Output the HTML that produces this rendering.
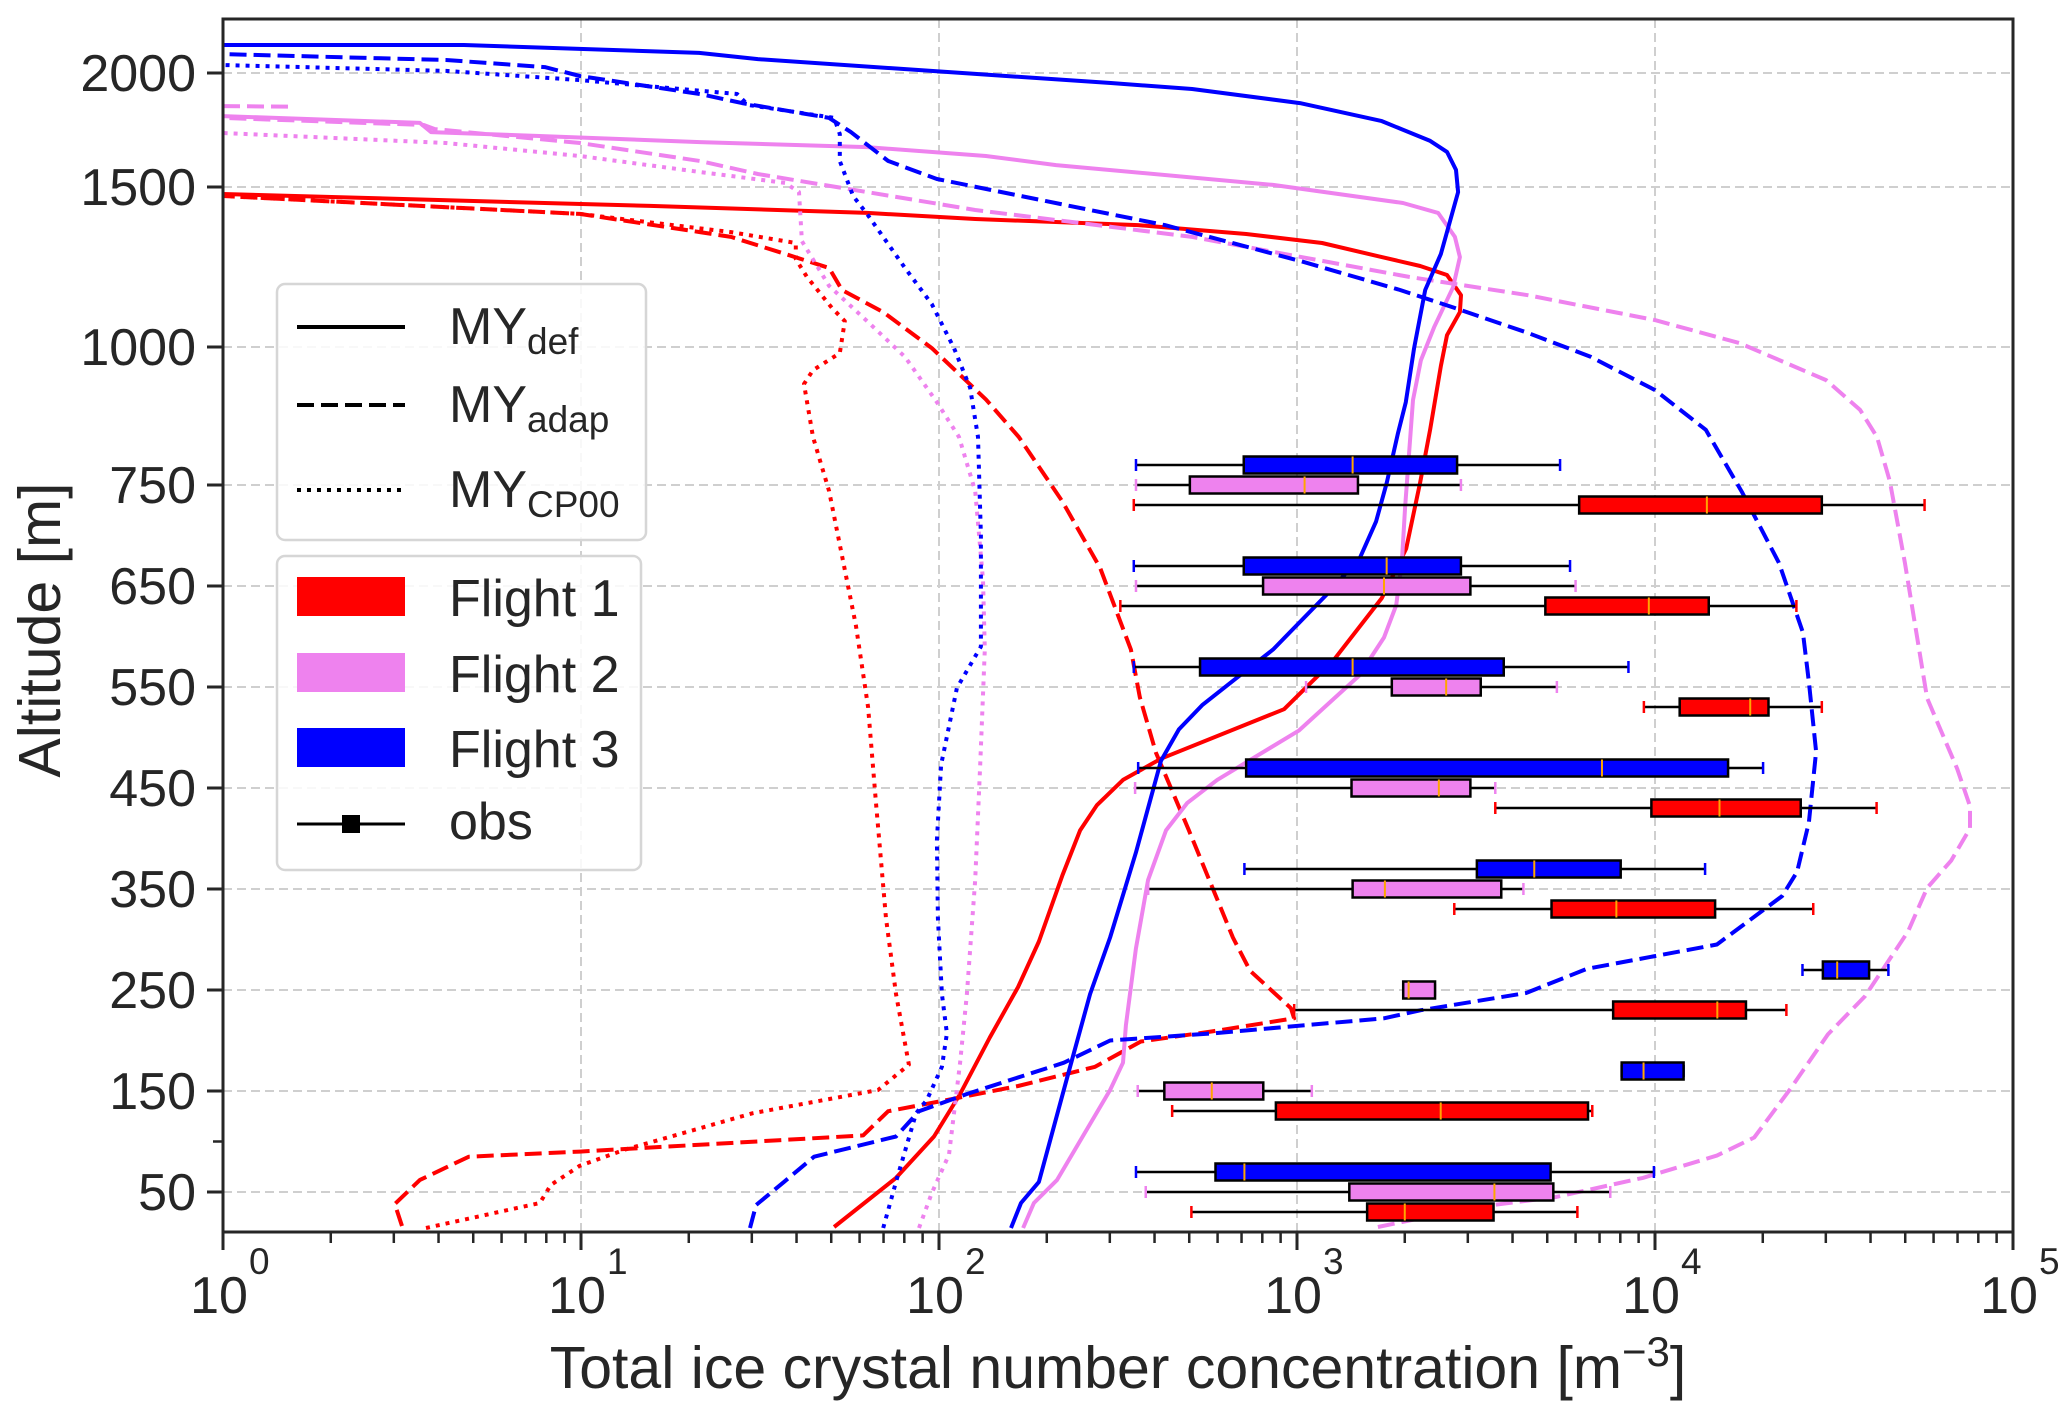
<!DOCTYPE html>
<html><head><meta charset="utf-8"><style>
html,body{margin:0;padding:0;background:#fff;}
svg{display:block;font-family:"Liberation Sans",Arial,sans-serif;}
</style></head><body>
<svg id="chart" xmlns="http://www.w3.org/2000/svg" width="2067" height="1417" viewBox="0 0 2067 1417">
<rect x="0" y="0" width="2067" height="1417" fill="#fff"/>
<g id="grid"></g>
<g id="lines"></g>
<g id="boxes"></g>
<g id="axes"></g>
<g id="legend"></g>
</svg>
<script>
// ---------- data ----------
const xTickExponents = [0, 1, 2, 3, 4, 5];
const yTickLabels = [50, 150, 250, 350, 450, 550, 650, 750, 1000, 1500, 2000];
const yMinorTicks = [100];
const obsGroups = [750, 650, 550, 450, 350, 250, 150, 50];
// [whisker-low, q1, median, q3, whisker-high] per group
const flight1Boxes = [[350,6140,13960,29240,56620],[321,4940,9610,14130,24830],[9310,11720,18450,20750,29240],[3580,9770,15140,25530,41590],[2750,5140,7800,14720,27670],[982,7640,14930,17950,23280],[448,873,2520,6500,6680],[507,1570,2000,3540,6070]];
const flight2Boxes = [[355,502,1050,1480,2870],[355,804,1750,3050,6000],[1060,1840,2610,3260,5320],[353,1420,2490,3050,3580],[384,1430,1760,3720,4290],[1980,1980,2050,2430,2430],[359,426,578,805,1100],[378,1400,3560,5200,7500]];
const flight3Boxes = [[355,710,1430,2800,5430],[350,710,1780,2870,5790],[350,536,1430,3780,8430],[360,721,7110,16000,20040],[713,3180,4600,8020,13800],[25820,29440,32280,39630,44870],[8070,8070,9290,12020,12020],[355,592,713,5110,9930]];
// profiles: [log10 concentration, altitude m]
const f1Def = [[1.707,15],[1.880,64],[1.986,105],[2.059,147],[2.142,203],[2.221,253],[2.279,298],[2.344,363],[2.394,408],[2.441,433],[2.514,458],[2.620,479],[2.964,528],[3.101,576],[3.237,638],[3.305,687],[3.344,755],[3.372,851],[3.402,966],[3.419,1037],[3.455,1109],[3.458,1162],[3.419,1225],[3.344,1253],[3.237,1281],[3.070,1325],[2.858,1353],[2.556,1381],[2.101,1400],[1.799,1419],[1.193,1441],[0,1478]];
const f1Adap = [[0.500,16],[0.480,38],[0.550,62],[0.687,85],[0.997,90],[1.788,106],[1.858,130],[2.050,143],[2.221,155],[2.436,174],[2.564,199],[2.763,209],[2.992,222],[2.983,232],[2.869,269],[2.821,302],[2.698,408],[2.606,485],[2.561,540],[2.536,587],[2.450,668],[2.344,734],[2.223,837],[2.131,905],[1.980,998],[1.844,1109],[1.729,1178],[1.693,1247],[1.570,1291],[1.419,1344],[1.332,1359],[0.997,1416],[0,1472]];
const f1Cp00 = [[0.567,14],[0.885,39],[0.916,57],[0.997,76],[1.123,92],[1.480,128],[1.830,151],[1.916,176],[1.880,246],[1.852,321],[1.824,435],[1.802,530],[1.768,611],[1.693,744],[1.648,837],[1.623,933],[1.648,958],[1.723,989],[1.737,1081],[1.701,1122],[1.631,1219],[1.600,1275],[1.600,1325],[1.419,1359],[0.997,1416],[0,1472]];
const f2Def = [[2.235,14],[2.265,39],[2.330,62],[2.478,151],[2.514,178],[2.522,215],[2.550,291],[2.584,359],[2.634,408],[2.693,435],[2.777,458],[3.006,507],[3.173,561],[3.243,599],[3.277,631],[3.293,674],[3.302,728],[3.324,904],[3.346,976],[3.383,1062],[3.436,1187],[3.455,1281],[3.441,1344],[3.394,1419],[3.296,1450],[2.933,1509],[2.327,1596],[2.131,1636],[1.799,1675],[1.332,1697],[0.874,1724],[0.581,1741],[0.550,1781],[0,1811]];
const f2Adap = [[3.226,15],[3.483,34],[3.723,45],[3.966,64],[4.173,86],[4.277,104],[4.380,153],[4.483,206],[4.587,244],[4.707,308],[4.760,351],[4.827,378],[4.880,410],[4.880,432],[4.844,469],[4.760,539],[4.698,673],[4.656,757],[4.620,837],[4.573,886],[4.478,940],[4.237,1012],[4.000,1084],[3.645,1162],[3.313,1219],[2.707,1344],[2.101,1428],[1.494,1557],[1.332,1614],[0.997,1693],[0.592,1754],[0.561,1772],[0,1803]];
const f2AdapTop = [[0,1855],[0.19,1852]];
const f2Cp00 = [[1.944,14],[1.980,49],[2.028,87],[2.059,178],[2.078,246],[2.101,359],[2.115,473],[2.128,587],[2.123,656],[2.101,744],[2.056,837],[1.994,900],[1.905,982],[1.799,1081],[1.693,1191],[1.617,1331],[1.609,1484],[1.570,1518],[1.332,1566],[0.997,1636],[0.623,1693],[0,1737]];
const f3Def = [[2.201,14],[2.229,39],[2.279,60],[2.363,170],[2.422,246],[2.478,302],[2.550,386],[2.620,477],[2.670,508],[2.735,532],[2.835,560],[2.933,587],[3.084,642],[3.176,678],[3.221,714],[3.251,755],[3.282,844],[3.304,900],[3.327,998],[3.358,1178],[3.402,1291],[3.450,1484],[3.444,1575],[3.419,1654],[3.372,1702],[3.237,1789],[3.008,1868],[2.707,1930],[2.480,1956],[2.101,1996],[1.494,2061],[1.330,2088],[0.673,2123],[0,2123]];
const f3Adap = [[1.472,14],[1.489,37],[1.567,60],[1.651,85],[1.880,105],[1.944,130],[2.078,147],[2.349,178],[2.478,200],[2.763,207],[3.243,222],[3.346,230],[3.640,247],[3.810,271],[4.173,295],[4.355,343],[4.397,367],[4.430,416],[4.450,486],[4.430,555],[4.413,604],[4.346,673],[4.243,743],[4.142,850],[4.000,922],[3.821,982],[3.645,1044],[3.441,1122],[3.288,1178],[3.008,1269],[2.631,1381],[2.299,1456],[1.994,1535],[1.858,1614],[1.754,1741],[1.693,1803],[1.450,1868],[1.332,1908],[0.997,1987],[0.899,2026],[0.623,2057],[0,2083]];
const f3Cp00 = [[1.844,14],[1.880,60],[1.936,128],[1.966,141],[2.008,174],[2.022,207],[2.008,246],[1.997,321],[1.994,398],[2.006,473],[2.050,549],[2.117,590],[2.117,700],[2.109,837],[2.087,926],[2.042,998],[1.980,1134],[1.905,1247],[1.799,1416],[1.760,1472],[1.723,1614],[1.723,1732],[1.707,1803],[1.466,1860],[1.436,1908],[0.997,1969],[0.623,2009],[0,2035]];

// ---------- axes ----------
const PL = 223, PR = 2013, PT = 19, PB = 1232;
const INK = '#262626';
function xLog(e){ return PL + (PR - PL) * e / 5; }
function xVal(v){ return xLog(Math.log10(v)); }
function yAlt(a){
  const k = [[10,1232],[50,1192],[750,485],[1000,347],[1500,187],[2000,73],[2237,19]];
  for (let i = 0; i < k.length - 1; i++) {
    if (a <= k[i+1][0] || i === k.length - 2) {
      const t = (a - k[i][0]) / (k[i+1][0] - k[i][0]);
      return k[i][1] + t * (k[i+1][1] - k[i][1]);
    }
  }
}
const NS = 'http://www.w3.org/2000/svg';
function mk(tag, attrs, parent){
  const e = document.createElementNS(NS, tag);
  for (const k in attrs) e.setAttribute(k, attrs[k]);
  parent.appendChild(e); return e;
}
const gGrid = document.getElementById('grid');
const gLines = document.getElementById('lines');
const gBoxes = document.getElementById('boxes');
const gAxes = document.getElementById('axes');

// grid
xTickExponents.forEach(e => {
  if (e === 0 || e === 5) return;
  const l = mk('line', {x1:xLog(e), x2:xLog(e), y1:PT, y2:PB, stroke:'#cfcfcf', 'stroke-width':2, 'stroke-dasharray':'9,5'}, gGrid);
  
  
});
yTickLabels.forEach(a => {
  const l = mk('line', {x1:PL, x2:PR, y1:yAlt(a), y2:yAlt(a), stroke:'#cfcfcf', 'stroke-width':2, 'stroke-dasharray':'9,5'}, gGrid);
  
  
});

// profiles
const RED = '#ff0000', VIO = '#ee82ee', BLUE = '#0000ff';
const DASH = '17,7', DOT = '4,6';
function drawProfile(pts, color, dash, name){
  const d = pts.map((p, i) => (i ? 'L' : 'M') + xLog(p[0]).toFixed(1) + ',' + yAlt(p[1]).toFixed(1)).join(' ');
  const p = mk('path', {d:d, fill:'none', stroke:color, 'stroke-width':4, 'stroke-linejoin':'round'}, gLines);
  if (dash) p.setAttribute('stroke-dasharray', dash);
  
  
}
drawProfile(f1Cp00, RED, DOT, 'flight1-cp00-profile');
drawProfile(f1Adap, RED, DASH, 'flight1-adap-profile');
drawProfile(f1Def, RED, null, 'flight1-def-profile');
drawProfile(f2Cp00, VIO, DOT, 'flight2-cp00-profile');
drawProfile(f2Adap, VIO, DASH, 'flight2-adap-profile');
drawProfile(f2AdapTop, VIO, DASH, 'flight2-adap-profile-top');
drawProfile(f2Def, VIO, null, 'flight2-def-profile');
drawProfile(f3Cp00, BLUE, DOT, 'flight3-cp00-profile');
drawProfile(f3Adap, BLUE, DASH, 'flight3-adap-profile');
drawProfile(f3Def, BLUE, null, 'flight3-def-profile');

// boxplots
function drawBoxes(boxes, color, offset, name){
  boxes.forEach((b, i) => {
    const yc = yAlt(obsGroups[i]) + offset;
    const g = mk('g', {}, gBoxes);
    
    
    mk('line', {x1:xVal(b[0]), x2:xVal(b[4]), y1:yc, y2:yc, stroke:'#000', 'stroke-width':2.5}, g);
    mk('line', {x1:xVal(b[0]), x2:xVal(b[0]), y1:yc-6, y2:yc+6, stroke:color, 'stroke-width':2.5}, g);
    mk('line', {x1:xVal(b[4]), x2:xVal(b[4]), y1:yc-6, y2:yc+6, stroke:color, 'stroke-width':2.5}, g);
    mk('rect', {x:xVal(b[1]), y:yc-8.5, width:Math.max(1, xVal(b[3]) - xVal(b[1])), height:17, fill:color, stroke:'#000', 'stroke-width':2.5}, g);
    mk('line', {x1:xVal(b[2]), x2:xVal(b[2]), y1:yc-8.5, y2:yc+8.5, stroke:'#ffa500', 'stroke-width':2}, g);
  });
}
drawBoxes(flight3Boxes, BLUE, -20, 'flight3-box');
drawBoxes(flight2Boxes, VIO, 0, 'flight2-box');
drawBoxes(flight1Boxes, RED, 20, 'flight1-box');

// axes frame
const frame = mk('rect', {x:PL, y:PT, width:PR-PL, height:PB-PT, fill:'none', stroke:INK, 'stroke-width':3}, gAxes);



// x ticks
xTickExponents.forEach(e => {
  const x = xLog(e);
  mk('line', {x1:x, x2:x, y1:PB, y2:PB+18, stroke:INK, 'stroke-width':3}, gAxes);
  const t = mk('text', {x:x-4, y:1313, 'font-size':52, fill:INK, 'text-anchor':'middle'}, gAxes);
  t.textContent = '10';
  
  
  const s = mk('text', {x:x+26, y:1274, 'font-size':37, fill:INK, 'text-anchor':'start'}, gAxes);
  s.textContent = String(e);
  
  
  if (e < 5) for (let m = 2; m <= 9; m++) {
    const xm = xLog(e + Math.log10(m));
    mk('line', {x1:xm, x2:xm, y1:PB, y2:PB+11, stroke:INK, 'stroke-width':2.5}, gAxes);
  }
});
// y ticks
yTickLabels.forEach(a => {
  const y = yAlt(a);
  mk('line', {x1:PL-16, x2:PL, y1:y, y2:y, stroke:INK, 'stroke-width':3}, gAxes);
  const t = mk('text', {x:196, y:y+18, 'font-size':52, fill:INK, 'text-anchor':'end'}, gAxes);
  t.textContent = String(a);
  
  
});
yMinorTicks.forEach(a => {
  const y = yAlt(a);
  mk('line', {x1:PL-10, x2:PL, y1:y, y2:y, stroke:INK, 'stroke-width':2.5}, gAxes);
});
</script>
<script>
(function(){
const NS = 'http://www.w3.org/2000/svg';
const g = document.getElementById('axes');
const xt = document.createElementNS(NS, 'text');
xt.setAttribute('x', 1118); xt.setAttribute('y', 1388);
xt.setAttribute('font-size', 59); xt.setAttribute('fill', '#262626'); xt.setAttribute('text-anchor', 'middle');


xt.innerHTML = 'Total ice crystal number concentration [m<tspan dy="-22" font-size="42">−3</tspan><tspan dy="22">]</tspan>';
g.appendChild(xt);
const yt = document.createElementNS(NS, 'text');
yt.setAttribute('transform', 'translate(60,630) rotate(-90)');
yt.setAttribute('font-size', 59); yt.setAttribute('fill', '#262626'); yt.setAttribute('text-anchor', 'middle');


yt.textContent = 'Altitude [m]';
g.appendChild(yt);
})();
</script>
<script>
(function(){
const NS = 'http://www.w3.org/2000/svg';
const L = document.getElementById('legend');
function mk(tag, attrs, parent){
  const e = document.createElementNS(NS, tag);
  for (const k in attrs) e.setAttribute(k, attrs[k]);
  parent.appendChild(e); return e;
}
const b1 = mk('rect', {x:277, y:284, width:369, height:256, rx:8, fill:'#fff', 'fill-opacity':0.85, stroke:'#d6d6d6', 'stroke-width':2.5}, L);


const entries = [['def', null, 327, 344], ['adap', '17,7', 405, 422], ['CP00', '4,6', 490, 507]];
entries.forEach(en => {
  const l = mk('line', {x1:297, x2:405, y1:en[2], y2:en[2], stroke:'#000', 'stroke-width':4}, L);
  if (en[1]) l.setAttribute('stroke-dasharray', en[1]);
  
  
  const t = mk('text', {x:449, y:en[3], 'font-size':52, fill:'#262626'}, L);
  t.innerHTML = 'MY<tspan dy="10" font-size="37">' + en[0] + '</tspan>';
  
  
});
const b2 = mk('rect', {x:277, y:556, width:364, height:314, rx:8, fill:'#fff', 'fill-opacity':0.85, stroke:'#d6d6d6', 'stroke-width':2.5}, L);


const fl = [['Flight 1', '#ff0000', 577, 616], ['Flight 2', '#ee82ee', 653, 692], ['Flight 3', '#0000ff', 728, 767]];
fl.forEach((f, i) => {
  const r = mk('rect', {x:297, y:f[2], width:108, height:39, fill:f[1]}, L);
  
  
  const t = mk('text', {x:449, y:f[3], 'font-size':52, fill:'#262626'}, L);
  t.textContent = f[0];
  
  
});
const ol = mk('line', {x1:297, x2:405, y1:824, y2:824, stroke:'#000', 'stroke-width':3}, L);


const om = mk('rect', {x:342, y:815, width:18, height:18, fill:'#000'}, L);


const ot = mk('text', {x:449, y:839, 'font-size':52, fill:'#262626'}, L);
ot.textContent = 'obs';


})();
</script>
</body></html>
